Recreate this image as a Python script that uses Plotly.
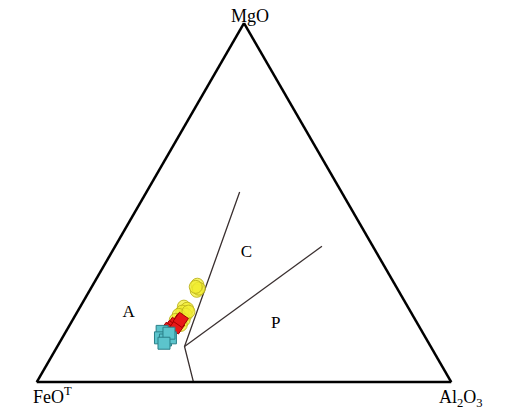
import plotly.graph_objects as go

# Compositions (wt% normalised): MgO, FeOT, Al2O3
yellow_mgo = [27.1, 25.4, 26.0, 26.5, 21.0, 20.4, 19.6, 18.7, 18.7, 17.3, 17.3, 15.9, 19.6]
yellow_feo = [47.7, 48.7, 47.9, 48.4, 54.0, 53.5, 55.1, 54.7, 56.4, 55.9, 57.8, 57.3, 53.6]
yellow_al = [25.2, 25.9, 26.1, 25.1, 25.0, 26.1, 25.3, 26.6, 24.9, 26.8, 24.9, 26.8, 26.8]

red_mgo = [16.8, 15.9, 15.0, 14.5, 15.5, 17.3]
red_feo = [57.3, 59.0, 60.2, 61.2, 58.4, 56.6]
red_al = [25.9, 25.1, 24.8, 24.3, 26.1, 26.1]

cyan_mgo = [14.1, 12.3, 11.7, 12.3, 13.6, 10.8]
cyan_feo = [62.7, 64.0, 63.1, 61.6, 61.3, 63.9]
cyan_al = [23.2, 23.7, 25.2, 26.1, 25.1, 25.3]

# Field boundaries (MgO, FeOT, Al2O3)
bound1_mgo = [52.9, 9.9, 0.0]
bound1_feo = [24.6, 59.4, 62.2]
bound1_al = [22.5, 30.7, 37.8]

bound2_mgo = [9.9, 37.8]
bound2_feo = [59.4, 12.3]
bound2_al = [30.7, 49.9]

field_labels = ["A", "C", "P"]
field_mgo = [19.3, 36.0, 16.1]
field_feo = [68.2, 31.4, 34.3]
field_al = [12.5, 32.6, 49.6]

serif = "Liberation Serif"

fig = go.Figure()

fig.add_trace(go.Scatterternary(a=bound1_mgo, b=bound1_feo, c=bound1_al, mode="lines",
                                line=dict(color="#3a3030", width=1.3), hoverinfo="skip"))
fig.add_trace(go.Scatterternary(a=bound2_mgo, b=bound2_feo, c=bound2_al, mode="lines",
                                line=dict(color="#3a3030", width=1.3), hoverinfo="skip"))

fig.add_trace(go.Scatterternary(a=yellow_mgo, b=yellow_feo, c=yellow_al, mode="markers",
                                marker=dict(symbol="circle", size=13, color="rgba(242,238,50,0.75)",
                                            line=dict(color="rgba(190,180,30,0.9)", width=1))))
fig.add_trace(go.Scatterternary(a=red_mgo, b=red_feo, c=red_al, mode="markers",
                                marker=dict(symbol="square", size=11, angle=35, color="#e81818",
                                            line=dict(color="#a00000", width=1))))
fig.add_trace(go.Scatterternary(a=cyan_mgo, b=cyan_feo, c=cyan_al, mode="markers",
                                marker=dict(symbol="square", size=12, color="#5cc4cc",
                                            line=dict(color="#2a7f88", width=1))))

fig.add_trace(go.Scatterternary(a=field_mgo, b=field_feo, c=field_al, mode="text",
                                text=field_labels, textfont=dict(family=serif, size=17, color="black"),
                                hoverinfo="skip"))

axis_style = dict(showticklabels=False, ticks="", showgrid=False, linecolor="black",
                  linewidth=2.5, title=dict(text=""))

fig.update_layout(
    width=509, height=412,
    margin=dict(l=0, r=0, t=0, b=0),
    paper_bgcolor="white",
    showlegend=False,
    title=dict(text="MgO", x=242 / 509, xanchor="center", xref="container",
               y=1 - 8 / 412, yanchor="middle", yref="container",
               font=dict(family=serif, size=18, color="black")),
    ternary=dict(
        sum=100,
        bgcolor="white",
        domain=dict(x=[27 / 509, 445 / 509], y=[38 / 412, 397 / 412]),
        aaxis=axis_style, baxis=axis_style, caxis=axis_style,
    ),
    annotations=[
        dict(text="FeO<sup>T</sup>", x=44 / 509, y=1 - 387 / 412, xref="paper", yref="paper",
             xanchor="center", yanchor="middle",
             showarrow=False, font=dict(family=serif, size=18, color="black")),
        dict(text="Al<sub>2</sub>O<sub>3</sub>", x=453 / 509, y=1 - 390 / 412, xref="paper", yref="paper",
             xanchor="center", yanchor="middle",
             showarrow=False, font=dict(family=serif, size=18, color="black")),
    ],
)

fig.write_html("out.html")
